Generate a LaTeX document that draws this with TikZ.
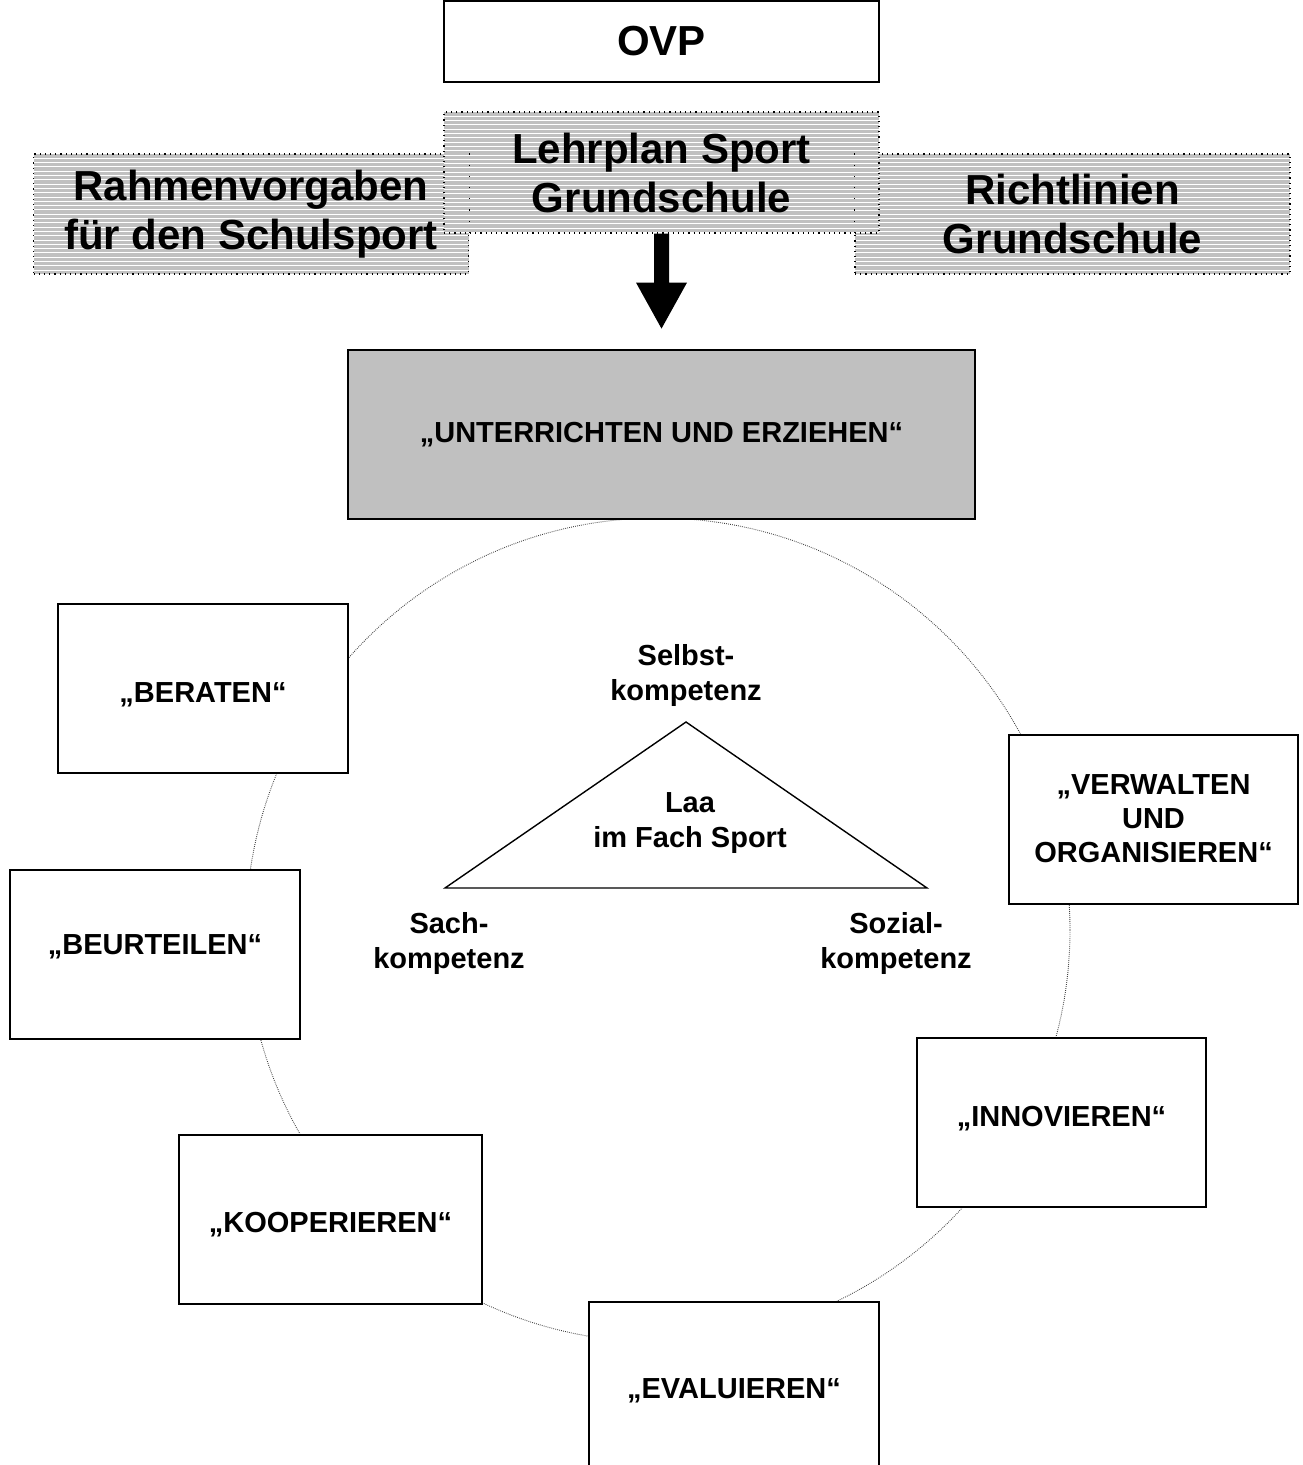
\documentclass[tikz,border=0pt]{standalone}
\usepackage{fontspec}
\setmainfont{Liberation Sans}
\usetikzlibrary{calc}
\definecolor{boxgray}{HTML}{C0C0C0}
\begin{document}
\begin{tikzpicture}[x=0.5pt,y=-0.5pt,
  hatch/.style={draw, dotted, line width=0.6pt, fill=boxgray,
    path picture={\foreach \k in {1,...,30}{\draw[white,line width=0.45pt,solid]
      ($(path picture bounding box.north west)+(-5,\k*4.3)$) -- ++(460,0);}},
    font=\fontsize{21}{24.5}\selectfont\bfseries, align=center, inner sep=0pt,
    minimum width=217.5pt, minimum height=60pt},
  rolebox/.style={draw, line width=1pt, fill=white, align=center, inner sep=0pt,
    font=\fontsize{14.5}{17}\selectfont\bfseries, minimum height=84.5pt},
  tpos/.style 2 args={text height=#1, text depth=#2},
  lbl/.style={align=center, inner sep=0pt, font=\fontsize{14.5}{17.5}\selectfont\bfseries},
  ring/.style={draw=black!75, line width=0.45pt, dash pattern=on 0.4pt off 0.6pt},
  seam/.style={draw, line width=0.6pt, dash pattern=on 0.6pt off 5pt}
]
\useasboundingbox (0,0) rectangle (1302,1465);
\clip (0,0) rectangle (1302,1465);

% circle
\draw[ring] (658,930) circle [radius=206pt];

% top boxes
\node[draw, line width=0.8pt, minimum width=217.5pt, minimum height=40.5pt, inner sep=0pt,
  font=\fontsize{21}{24}\selectfont\bfseries] (ovp) at (661.5,41.5) {OVP};
\node[hatch] (rahmen) at (251,214) {Rahmenvorgaben\\für den Schulsport};
\node[hatch] (richt) at (1072.5,214) {Richtlinien\\Grundschule};
\node[hatch, minimum height=60.5pt] (lehr) at (661.5,172.5) {Lehrplan Sport\\Grundschule};
\draw[seam] (rahmen.north east) -- (lehr.south -| rahmen.east);
\draw[seam] (richt.north west) -- (lehr.south -| richt.west);

% block arrow
\fill ($(lehr.south)+(-7.5,0)$) -- ($(lehr.south)+(-7.5,49)$) -- ($(lehr.south)+(-25.5,49)$)
  -- ($(lehr.south)+(0,95)$) -- ($(lehr.south)+(25.5,49)$) -- ($(lehr.south)+(7.5,49)$)
  -- ($(lehr.south)+(7.5,0)$) -- cycle;

% main box
\node[draw, line width=1pt, fill=boxgray, minimum width=313.5pt, minimum height=84.5pt,
  inner sep=0pt, font=\fontsize{14.5}{17}\selectfont\bfseries] (unt) at (661.5,434.5)
  {„UNTERRICHTEN UND ERZIEHEN“};

% role boxes
\node[rolebox, minimum width=145pt, tpos={17pt}{3pt}] (beraten) at (203,688.5) {„BERATEN“};
\node[rolebox, minimum width=145pt, tpos={11pt}{11pt}] (beurteilen) at (155,954) {„BEURTEILEN“};
\node[rolebox, minimum width=151.5pt, tpos={16pt}{3pt}] (koop) at (330.5,1219) {„KOOPERIEREN“};
\node[rolebox, minimum width=145pt, minimum height=85pt, tpos={14.5pt}{3pt}] (eval) at (734,1387) {„EVALUIEREN“};
\node[rolebox, minimum width=144.5pt, tpos={11pt}{7.5pt}] (innov) at (1061.5,1122.5) {„INNOVIEREN“};
\node[rolebox, minimum width=144.5pt] (verw) at (1153.5,819) {„VERWALTEN\\UND\\ORGANISIEREN“};

% triangle
\coordinate (ttop) at (686,722);
\coordinate (tleft) at (445,888);
\coordinate (tright) at (927,888);
\draw[line width=0.7pt] (ttop) -- (tleft) -- (tright) -- cycle;

\node[lbl] (selbst) at (686,675) {Selbst-\\kompetenz};
\node[lbl] (laa) at (690,823) {Laa\\im Fach Sport};
\node[lbl] (sach) at (449,943) {Sach-\\kompetenz};
\node[lbl] (sozial) at (896,943) {Sozial-\\kompetenz};
\end{tikzpicture}
\end{document}
